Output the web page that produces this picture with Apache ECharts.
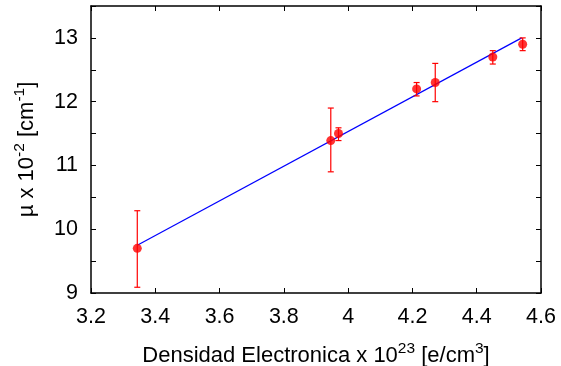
<!DOCTYPE html>
<html>
<head>
<meta charset="utf-8">
<script src="https://cdn.jsdelivr.net/npm/echarts@6/dist/echarts.min.js"></script>
<style>
  html, body { margin: 0; padding: 0; background: #fff; }
  #chart { width: 561px; height: 366px; }
</style>
</head>
<body>
<div id="chart"></div>
<script>
// measured points: electron density (x 10^23 e/cm3) vs mu (x 10^-2 cm^-1)
const density = [3.344, 3.946, 3.970, 4.213, 4.271, 4.450, 4.543];
const mu      = [9.70, 11.39, 11.50, 12.20, 12.30, 12.70, 12.90];
const muLow   = [9.09, 10.90, 11.39, 12.09, 12.00, 12.59, 12.80];
const muHigh  = [10.29, 11.90, 11.59, 12.30, 12.60, 12.80, 13.00];

// fitted line end points
const fitX = [3.344, 4.540];
const fitY = [9.75, 13.00];

const xTicks = [3.2, 4.6, 0.2];   // min, max, step
const yTicks = [9, 13.5, 0.5];

const FONT = '"Liberation Sans", Arial, sans-serif';
const FS = 21.5;

const chart = echarts.init(document.getElementById('chart'), null, { renderer: 'canvas' });

const axisLine = { show: true, lineStyle: { color: '#000', width: 1.5 } };
const tickIn = { show: true, inside: true, length: 5, lineStyle: { color: '#000', width: 1 } };
const richName = {
  a: { color: '#000', fontFamily: FONT, fontSize: 22 },
  s: { color: '#000', fontFamily: FONT, fontSize: 15.5, padding: [0, 0, 13, 0] }
};

const errData = density.map((x, i) => [x, muLow[i], muHigh[i]]);

chart.setOption({
  animation: false,
  backgroundColor: '#fff',
  grid: { left: 91, right: 20, top: 6, bottom: 73, outerBoundsMode: 'none' },
  xAxis: [
    {
      type: 'value', min: xTicks[0], max: xTicks[1], interval: xTicks[2],
      axisLine, axisTick: tickIn, splitLine: { show: false },
      axisLabel: {
        color: '#000', fontFamily: FONT, fontSize: FS, margin: 13,
        formatter: v => String(Math.round(v * 10) / 10)
      },
      name: '{a|Densidad Electronica x 10}{s|23}{a| [e/cm}{s|3}{a|]}',
      nameLocation: 'middle', nameGap: 48,
      nameTextStyle: { rich: richName }
    },
    {
      type: 'value', position: 'top', min: xTicks[0], max: xTicks[1], interval: xTicks[2],
      axisLine, axisTick: tickIn, axisLabel: { show: false }, splitLine: { show: false }
    }
  ],
  yAxis: [
    {
      type: 'value', min: yTicks[0], max: yTicks[1], interval: yTicks[2],
      axisLine, axisTick: tickIn, splitLine: { show: false },
      axisLabel: {
        color: '#000', fontFamily: FONT, fontSize: FS, margin: 13,
        formatter: v => (Math.abs(v - Math.round(v)) < 1e-6 ? String(Math.round(v)) : '')
      },
      name: '{a|µ x 10}{s|-2}{a| [cm}{s|-1}{a|]}',
      nameLocation: 'middle', nameGap: 50,
      nameTextStyle: { rich: richName }
    },
    {
      type: 'value', position: 'right', min: yTicks[0], max: yTicks[1], interval: yTicks[2],
      axisLine, axisTick: tickIn, axisLabel: { show: false }, splitLine: { show: false }
    }
  ],
  series: [
    {
      type: 'line',
      data: fitX.map((x, i) => [x, fitY[i]]),
      showSymbol: false,
      lineStyle: { color: '#0000ff', width: 1.2 },
      z: 2
    },
    {
      type: 'custom',
      data: errData,
      renderItem: (params, api) => {
        const x = api.value(0);
        const lo = api.coord([x, api.value(1)]);
        const hi = api.coord([x, api.value(2)]);
        const cap = 3;
        const style = { stroke: '#ff0000', lineWidth: 1.2 };
        return {
          type: 'group',
          children: [
            { type: 'line', shape: { x1: lo[0], y1: lo[1], x2: hi[0], y2: hi[1] }, style },
            { type: 'line', shape: { x1: lo[0] - cap, y1: lo[1], x2: lo[0] + cap, y2: lo[1] }, style },
            { type: 'line', shape: { x1: hi[0] - cap, y1: hi[1], x2: hi[0] + cap, y2: hi[1] }, style }
          ]
        };
      },
      z: 3
    },
    {
      type: 'scatter',
      data: density.map((x, i) => [x, mu[i]]),
      symbol: 'circle',
      symbolSize: 9,
      itemStyle: { color: '#ff0000' },
      z: 4
    }
  ]
});
</script>
</body>
</html>
